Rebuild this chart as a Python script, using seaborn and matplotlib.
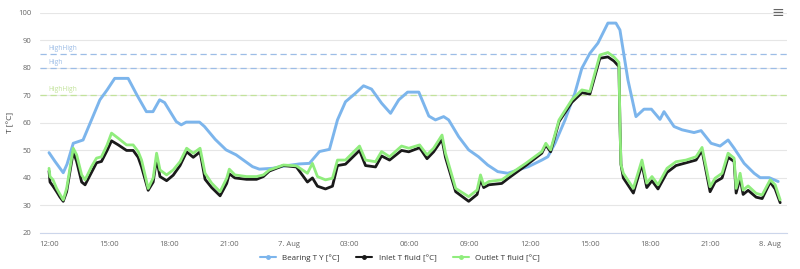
import numpy as np
import pandas as pd
import matplotlib
matplotlib.use("Agg")
import matplotlib.pyplot as plt
import seaborn as sns
from matplotlib.lines import Line2D

# hours since 6 Aug 12:00
bearing_t = [0, 0.3, 0.71, 0.9, 1.21, 1.7, 2.12, 2.54, 2.9, 3.28, 3.95, 4.4, 4.86, 5.19, 5.52, 5.77,
             6.35, 6.6, 6.85, 7.51, 7.76, 8.3, 8.84, 9.34, 10.16, 10.5, 11.16, 11.8, 12.5, 13.0, 13.5,
             14.0, 14.4, 14.8, 15.3, 15.7, 16.1, 16.6, 17.05, 17.46, 17.9, 18.46, 18.96, 19.29, 19.7,
             19.95, 20.45, 20.95, 21.44, 21.9, 22.4, 22.9, 23.4, 23.93, 24.6, 24.9, 25.26, 25.76, 26.25,
             26.6, 27.0, 27.4, 27.9, 28.3, 28.5, 28.9, 29.3, 29.7, 30.07, 30.5, 30.7, 31.2, 31.6, 32.2,
             32.55, 33.05, 33.5, 33.9, 34.2, 34.7, 35.2, 35.5, 35.95, 36.4]
bearing_v = [49.2, 46.0, 41.9, 45.0, 52.6, 53.8, 61.1, 68.4, 72.0, 76.2, 76.2, 70.0, 64.1, 64.1, 68.4, 67.4,
             60.5, 59.3, 60.3, 60.3, 58.7, 54.0, 50.2, 48.4, 44.1, 43.2, 43.5, 44.4, 45.1, 45.3, 49.6,
             50.4, 61.1, 67.7, 70.8, 73.5, 72.3, 67.2, 63.5, 68.4, 71.2, 71.2, 62.5, 61.1, 62.3,
             61.1, 55.0, 50.2, 47.7, 44.7, 42.3, 41.7, 42.9, 44.1, 46.5, 47.7, 52.6, 61.1, 70.8,
             79.9, 85.3, 89.0, 96.3, 96.3, 93.8, 75.6, 62.3, 65.0, 65.0, 61.3, 64.1, 58.7, 57.5, 56.5,
             57.2, 52.6, 51.6, 53.8, 50.8, 45.3, 41.7, 40.1, 40.1, 38.7]

fluid_t = [0, 0.05, 0.2, 0.38, 0.55, 0.71, 0.88, 1.21, 1.38, 1.63, 1.8, 2.12, 2.37, 2.62, 2.9, 3.12, 3.46,
           3.87, 4.2, 4.45, 4.62, 4.95, 5.2, 5.37, 5.54, 5.87, 6.2, 6.54, 6.87, 7.2, 7.54, 7.79, 8.12,
           8.54, 8.87, 9.0, 9.28, 9.86, 10.36, 10.7, 11.0, 11.7, 12.35, 12.9, 13.15, 13.4, 13.8, 14.15,
           14.4, 14.8, 15.5, 15.8, 16.3, 16.6, 17.0, 17.6, 17.96, 18.5, 18.87, 19.2, 19.62, 19.79, 20.3,
           20.95, 21.37, 21.54, 21.7, 21.95, 22.6, 22.95, 23.8, 24.6, 24.8, 25.04, 25.46, 26.1, 26.6,
           27.0, 27.25, 27.5, 27.9, 28.2, 28.45, 28.5, 28.55, 28.67, 29.17, 29.6, 29.84, 30.1, 30.4,
           30.85, 31.3, 31.8, 32.3, 32.6, 33.0, 33.25, 33.6, 33.9, 34.2, 34.3, 34.5, 34.65, 34.9, 35.3,
           35.6, 36.0, 36.25, 36.5]
outlet_v = [43.5, 40.5, 39.3, 36.2, 34.0, 32.0, 36.2, 50.8, 48.4, 41.1, 39.3, 44.1, 47.2, 47.7, 52.0, 56.3, 54.4,
            52.0, 52.0, 49.6, 46.5, 36.2, 40.0, 49.0, 42.9, 41.1, 42.9, 45.9, 50.8, 49.0, 50.8, 41.7, 38.1,
            35.0, 39.9, 43.2, 41.1, 40.5, 40.5, 41.1, 42.9, 44.7, 44.4, 41.7, 45.3, 40.5, 39.3, 39.9,
            46.5, 46.5, 51.6, 46.5, 45.9, 49.6, 47.7, 51.6, 50.8, 52.0, 48.4, 50.8, 55.6, 49.0, 36.2,
            33.2, 35.6, 41.1, 37.5, 38.7, 39.3, 41.1, 45.3, 49.6, 52.6, 50.2, 61.1, 68.4, 72.0,
            71.4, 78.1, 84.7, 85.6, 84.0, 82.0, 60.0, 45.0, 41.7, 36.2, 46.5, 38.1, 40.5, 37.5,
            43.5, 45.9, 46.5, 47.7, 51.1, 36.8, 39.9, 41.7, 49.0, 47.2, 36.2, 41.7, 35.6, 37.1, 34.4,
            33.8, 39.3, 37.5, 32.0]
inlet_v = [42.5, 38.5, 37.0, 35.0, 33.0, 31.5, 35.0, 49.5, 46.0, 38.5, 37.5, 42.0, 45.5, 46.0, 50.0, 53.5, 52.0,
           50.0, 50.0, 47.5, 44.0, 35.5, 38.5, 47.0, 40.5, 39.0, 41.0, 44.5, 49.5, 47.5, 49.5, 39.5, 36.5,
           33.5, 38.0, 41.5, 40.0, 39.5, 39.5, 40.5, 42.5, 44.5, 44.0, 38.5, 40.0, 37.0, 36.0, 37.0,
           44.5, 45.0, 50.0, 44.5, 44.0, 48.0, 46.5, 50.0, 49.5, 51.0, 47.0, 49.5, 54.0, 47.5, 35.0,
           31.5, 34.0, 39.5, 36.5, 37.5, 38.0, 40.0, 44.5, 49.0, 52.0, 49.5, 60.5, 67.5, 71.0,
           70.5, 77.0, 83.5, 84.0, 82.5, 80.5, 60.0, 45.0, 40.0, 34.5, 45.0, 36.5, 39.0, 36.0,
           42.0, 44.5, 45.5, 46.5, 50.0, 35.0, 38.5, 40.0, 47.5, 46.0, 34.5, 40.0, 34.0, 35.5, 33.0,
           32.5, 38.5, 36.0, 31.0]

tick_hours = [0, 3, 6, 9, 12, 15, 18, 21, 24, 27, 30, 33, 36]
tick_labels = ["12:00", "15:00", "18:00", "21:00", "7. Aug", "03:00", "06:00", "09:00",
               "12:00", "15:00", "18:00", "21:00", "8. Aug"]
y_ticks = [20, 30, 40, 50, 60, 70, 80, 90, 100]

limits = [85, 80, 70]
limit_labels = ["HighHigh", "High", "HighHigh"]
limit_colors = ["#9dbde6", "#9dbde6", "#c2e39a"]

series_names = ["Bearing T Y [°C]", "Inlet T fluid [°C]", "Outlet T fluid [°C]"]
colors = ["#7cb5ec", "#1a1a1a", "#90ed7d"]

sns.set_style("white")
plt.rcParams['font.family'] = ['Open Sans', 'DejaVu Sans']

fig = plt.figure(figsize=(8, 2.69), dpi=100)
ax = fig.add_axes([0.05, 0.134, 0.934, 0.818])

df_b = pd.DataFrame({"t": bearing_t, "v": bearing_v})
df_i = pd.DataFrame({"t": fluid_t, "v": inlet_v})
df_o = pd.DataFrame({"t": fluid_t, "v": outlet_v})

sns.lineplot(data=df_b, x="t", y="v", ax=ax, color=colors[0], lw=2.1, sort=False, estimator=None)
sns.lineplot(data=df_i, x="t", y="v", ax=ax, color=colors[1], lw=2.0, sort=False, estimator=None)
sns.lineplot(data=df_o, x="t", y="v", ax=ax, color=colors[2], lw=2.0, sort=False, estimator=None)

for val, lab, c in zip(limits, limit_labels, limit_colors):
    ax.axhline(val, color=c, lw=0.9, ls=(0, (5, 3)), zorder=1)
    ax.text(-0.05, val + 0.8, lab, color=c, fontsize=4.8, ha="left", va="bottom")

ax.set_xlim(-0.45, 36.85)
ax.set_ylim(20, 100)
ax.set_yticks(y_ticks)
ax.set_yticklabels([str(v) for v in y_ticks])
ax.set_xticks(tick_hours)
ax.set_xticklabels(tick_labels)
ax.tick_params(axis="both", labelsize=5.5, labelcolor="#666666", length=0, pad=6)
ax.grid(axis="y", color="#e6e6e6", lw=0.8)
ax.grid(axis="x", visible=False)
for s in ["top", "right", "left"]:
    ax.spines[s].set_visible(False)
ax.spines["bottom"].set_color("#ccd6eb")
ax.spines["bottom"].set_linewidth(0.8)
ax.set_xlabel("")
ax.set_ylabel("T [°C]", fontsize=6, color="#444444", labelpad=3)

handles = [Line2D([0], [0], color=c, lw=1.5, marker="o", markersize=2.5) for c in colors]
fig.legend(handles, series_names, loc="center", bbox_to_anchor=(0.5, 0.04), ncol=3, frameon=False,
           fontsize=5.8, handlelength=2.0, columnspacing=2.0, labelcolor="#333333")

fig.text(0.972, 0.95, "≡", fontsize=11, color="#666666", ha="center", va="center")

fig.savefig("out.png", dpi=100, facecolor="white")
